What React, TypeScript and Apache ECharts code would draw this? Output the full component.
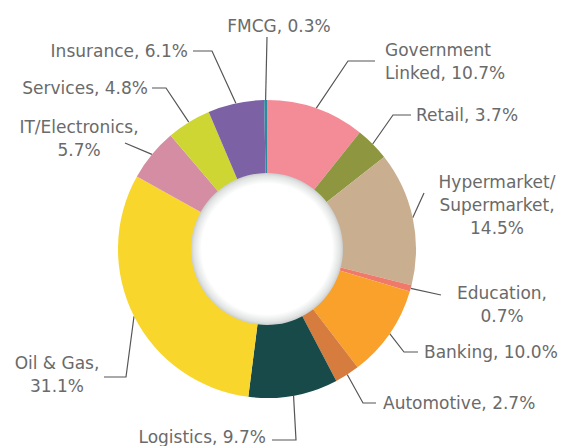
import React, { useEffect, useRef } from "react";
import * as echarts from "echarts";

const categories = [
  "Government\nLinked",
  "Retail",
  "Hypermarket/\nSupermarket",
  "Education",
  "Banking",
  "Automotive",
  "Logistics",
  "Oil & Gas",
  "IT/Electronics",
  "Services",
  "Insurance",
  "FMCG",
];
const values = [10.7, 3.7, 14.5, 0.7, 10.0, 2.7, 9.7, 31.1, 5.7, 4.8, 6.1, 0.3];
// how each label text is broken: separator placed between name and value
const separators = [", ", ", ", ",\n", ",\n", ", ", ", ", ", ", ",\n", ",\n", ", ", ", ", ", "];
const colors = [
  "#F48C98",
  "#8E9640",
  "#C9AE90",
  "#F07A6A",
  "#F9A12A",
  "#D67C3E",
  "#174A48",
  "#F8D62C",
  "#D48DA3",
  "#CDD633",
  "#7C62A5",
  "#2A8A9E",
];

// label placement (layout only)
const labelLayouts: { x: number; y: number; align: string; line: number[][] }[] = [
  { x: 385, y: 61, align: "left", line: [[348, 61], [375, 61]] },
  { x: 416, y: 115, align: "left", line: [[393, 115], [411, 115]] },
  { x: 497, y: 205, align: "center", line: [[424, 193]] },
  { x: 502, y: 304, align: "center", line: [[441, 295]] },
  { x: 424, y: 352, align: "left", line: [[404, 352], [418, 352]] },
  { x: 383, y: 403, align: "left", line: [[363, 403], [376, 403]] },
  { x: 266, y: 437, align: "right", line: [[296, 440], [272, 440]] },
  { x: 57, y: 374, align: "center", line: [[126, 377], [104, 377]] },
  { x: 79, y: 138, align: "center", line: [[125, 143]] },
  { x: 148, y: 88, align: "right", line: [[166, 88], [152, 88]] },
  { x: 188, y: 51, align: "right", line: [[212, 51], [193, 51]] },
  { x: 279, y: 26, align: "center", line: [[267, 37]] },
];

export default function App() {
  const ref = useRef<HTMLDivElement>(null);
  useEffect(() => {
    if (!ref.current) return;
    const chart = echarts.init(ref.current, null, { renderer: "svg" });
    const data = categories.map((name, i) => ({
      name,
      value: values[i],
      itemStyle: { color: colors[i] },
    }));
    chart.setOption({
      animation: false,
      backgroundColor: "#ffffff",
      series: [
        {
          type: "pie",
          center: [267, 249],
          radius: [74, 149],
          startAngle: 90,
          clockwise: true,
          avoidLabelOverlap: false,
          data,
          label: {
            show: true,
            position: "outside",
            fontFamily: "DejaVu Sans",
            fontSize: 17,
            lineHeight: 23,
            color: "#6a6a6a",
            formatter: (p: any) =>
              p.name + separators[p.dataIndex] + p.value.toFixed(1) + "%",
          },
          labelLine: {
            show: true,
            length: 10,
            length2: 10,
            lineStyle: { color: "#555555", width: 1.2 },
          },
          labelLayout: (params: any) => {
            const l = labelLayouts[params.dataIndex];
            const start = params.labelLinePoints
              ? params.labelLinePoints[0]
              : [l.x, l.y];
            return {
              x: l.x,
              y: l.y,
              align: l.align,
              verticalAlign: "middle",
              labelLinePoints: [start, ...l.line],
            };
          },
          emphasis: { disabled: true },
        },
        {
          type: "pie",
          center: [267, 249],
          radius: [0, 76],
          silent: true,
          label: { show: false },
          labelLine: { show: false },
          emphasis: { disabled: true },
          z: 5,
          data: [
            {
              value: 1,
              name: "",
              itemStyle: {
                color: {
                  type: "radial",
                  x: 0.5,
                  y: 0.5,
                  r: 0.5,
                  colorStops: [
                    { offset: 0, color: "#ffffff" },
                    { offset: 0.86, color: "#ffffff" },
                    { offset: 0.96, color: "#e2e4e4" },
                    { offset: 1, color: "#cbcece" },
                  ],
                },
              },
            },
          ],
        },
      ],
    });
    return () => chart.dispose();
  }, []);
  return (
    <div
      ref={ref}
      style={{ position: "fixed", left: 0, top: 0, width: 566, height: 446 }}
    />
  );
}
